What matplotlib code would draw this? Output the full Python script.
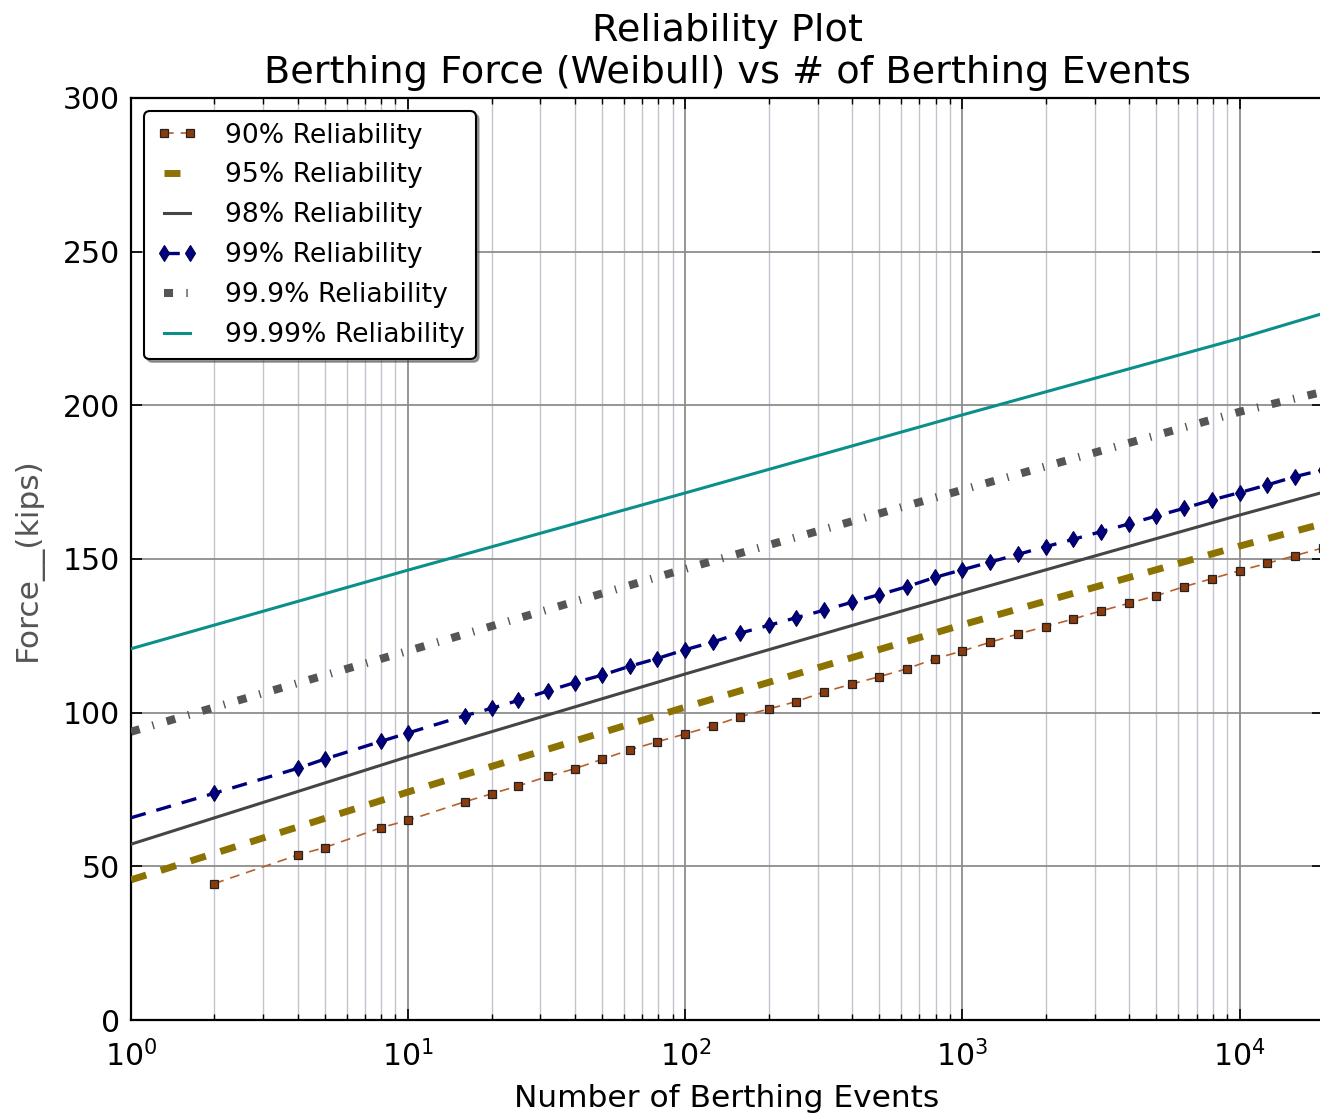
import matplotlib
matplotlib.use('Agg')
import matplotlib.pyplot as plt

plt.rcParams['font.family'] = ['DejaVu Sans']
plt.rcParams['mathtext.fontset'] = 'dejavusans'
plt.rcParams['lines.scale_dashes'] = False

# ---------------- data ----------------
events_marked = [2, 4, 5, 8, 10, 16, 20, 25, 32, 40, 50, 63, 79, 100, 126, 158,
                 200, 251, 316, 398, 501, 631, 794, 1000, 1259, 1585, 1995, 2512,
                 3162, 3981, 5012, 6310, 7943, 10000, 12589, 15849, 19953]

force_90 = [44.4, 53.7, 56.1, 62.6, 65.0, 71.0, 73.6, 76.2, 79.3, 81.8, 84.8, 87.9,
            90.5, 93.1, 95.7, 98.7, 101.2, 103.6, 106.7, 109.3, 111.7, 114.3, 117.5,
            120.1, 122.9, 125.6, 128.0, 130.5, 133.1, 135.6, 138.1, 141.0, 143.6,
            146.2, 148.6, 151.1, 153.6]

events_99 = [1] + events_marked
force_99 = [65.8, 73.8, 81.9, 84.9, 90.7, 93.4, 99.0, 101.4, 104.0, 107.1, 109.8,
            112.2, 115.1, 117.6, 120.5, 123.0, 125.9, 128.4, 130.9, 133.3, 135.9,
            138.4, 141.0, 144.0, 146.5, 149.0, 151.5, 154.0, 156.4, 158.9, 161.4,
            164.0, 166.5, 169.2, 171.6, 174.1, 176.8, 179.0]

events_line = [1, 10, 100, 1000, 10000, 20000]
force_95 = [45.6, 74.2, 101.8, 128.6, 154.2, 161.5]
force_98 = [57.2, 85.7, 112.6, 138.8, 164.3, 171.7]
force_999 = [93.8, 120.1, 146.8, 172.5, 197.9, 204.4]
force_9999 = [120.8, 146.4, 171.5, 196.9, 221.8, 229.9]

labels = ['90% Reliability', '95% Reliability', '98% Reliability',
          '99% Reliability', '99.9% Reliability', '99.99% Reliability']
y_ticks = [0, 50, 100, 150, 200, 250, 300]

# ---------------- figure ----------------
W, H = 1320, 1117
fig = plt.figure(figsize=(W / 100, H / 100), dpi=100)
ax = fig.add_axes([131 / W, 1 - 1020 / H, (1323 - 131) / W, (1020 - 98) / H])

ax.set_xscale('log')

ax.plot(events_marked, force_90, color='#b85f2c', lw=1.2, dashes=(7, 5),
        marker='s', markersize=6.2, markerfacecolor='#8b3a0c',
        markeredgecolor='#222222', markeredgewidth=0.9, label=labels[0], zorder=5)
ax.plot(events_line, force_95, color='#8c7200', lw=5, dashes=(11.5, 11),
        label=labels[1], zorder=4)
ax.plot(events_line, force_98, color='#454545', lw=2.2, label=labels[2], zorder=4)
ax.plot(events_99, force_99, color='#00007f', lw=2.4, dashes=(11, 8),
        marker='d', markersize=8.5, markerfacecolor='#000080',
        markeredgecolor='#000050', markeredgewidth=0.8,
        markevery=slice(1, None), label=labels[3], zorder=5)
ax.plot(events_line, force_999, color='#555555', lw=5.8,
        dashes=(6.5, 9.6, 1.0, 9.6), label=labels[4], zorder=4)
ax.plot(events_line, force_9999, color='#0b8f8a', lw=2.2, label=labels[5], zorder=4)

ax.set_xlim(1, 2e4)
ax.set_ylim(0, 300)
ax.set_yticks(y_ticks)

ax.grid(True, which='major', color='#8e8e8e', lw=1.3, zorder=0)
ax.grid(True, which='minor', axis='x', color='#c4c4ce', lw=1.0, zorder=0)
ax.set_axisbelow(True)

ax.tick_params(which='both', direction='in', top=True, right=True)
ax.tick_params(which='major', length=8, width=1.2, labelsize=21.5)
ax.tick_params(axis='y', which='major', pad=8)
ax.tick_params(axis='x', which='major', pad=14)
ax.tick_params(which='minor', length=4, width=1.0)
for s in ax.spines.values():
    s.set_linewidth(1.6)
    s.set_color('black')

ax.set_title('Reliability Plot\nBerthing Force (Weibull) vs # of Berthing Events',
             fontsize=27.5, pad=11)
ax.set_xlabel('Number of Berthing Events', fontsize=22.5, labelpad=9)
ax.set_ylabel('Force__(kips)', fontsize=22.5, color='#555555', labelpad=14)

leg = ax.legend(loc='upper left', fontsize=19.2, numpoints=2, handlelength=1.6,
                handletextpad=1.0, labelspacing=0.52, borderpad=0.42,
                fancybox=True, shadow=True, framealpha=1)
leg.get_frame().set_edgecolor('black')
leg.get_frame().set_linewidth(1.5)

fig.savefig('out.png', dpi=100)
